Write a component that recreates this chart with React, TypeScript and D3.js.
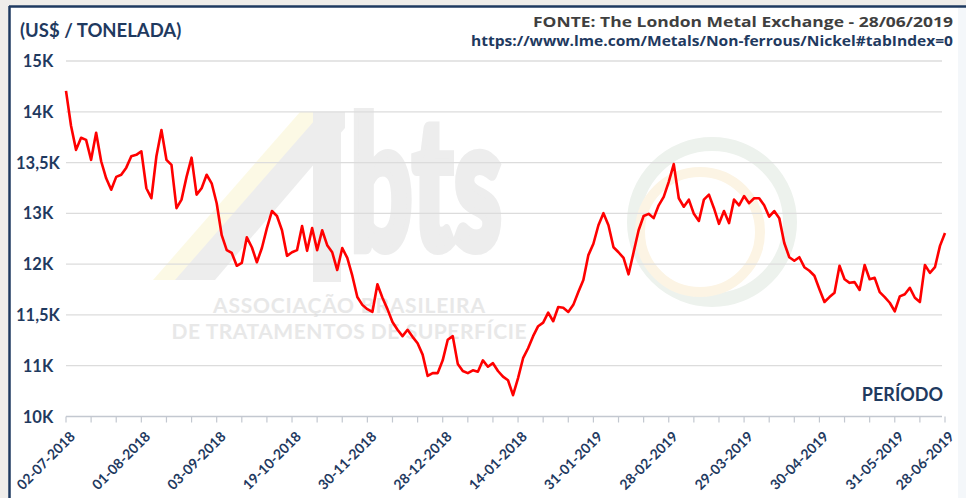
import React from "react";
import * as d3 from "d3";

// Nickel LME cash price, US$ / tonne
const prices: number[] = [
  14580, 14090, 13750, 13920, 13890, 13610, 13990, 13590, 13350, 13190,
  13370, 13400, 13500, 13660, 13680, 13730, 13210, 13070, 13660, 14030,
  13610, 13540, 12930, 13050, 13370, 13640, 13120, 13210, 13400, 13280,
  13000, 12550, 12340, 12300, 12120, 12160, 12520, 12380, 12170, 12370,
  12650, 12890, 12820, 12620, 12260, 12310, 12340, 12680, 12330, 12650,
  12340, 12620, 12410, 12310, 12060, 12370, 12230, 11980, 11680, 11570,
  11510, 11470, 11860, 11670, 11510, 11330, 11220, 11130, 11220, 11120,
  11030, 10870, 10570, 10610, 10610, 10790, 11080, 11130, 10740, 10640,
  10610, 10650, 10630, 10790, 10700, 10750, 10640, 10560, 10510, 10300,
  10540, 10820, 10960, 11130, 11270, 11320, 11460, 11340, 11540, 11530,
  11470, 11570, 11750, 11920, 12270, 12430, 12690, 12860, 12690, 12380,
  12310, 12230, 12000, 12310, 12620, 12820, 12850, 12790, 12970, 13090,
  13300, 13550, 13070, 12950, 13050, 12850, 12750, 13050, 13120, 12930,
  12710, 12890, 12720, 13050, 12970, 13100, 13000, 13070, 13070, 12970,
  12810, 12890, 12790, 12440, 12240, 12190, 12240, 12100, 12050, 11980,
  11790, 11610, 11680, 11740, 12120, 11930, 11880, 11890, 11780, 12130,
  11930, 11950, 11750, 11680, 11600, 11480, 11690, 11720, 11810, 11670,
  11610, 12130, 12020, 12100, 12400, 12580,
];

const xLabels: string[] = [
  "02-07-2018", "01-08-2018", "03-09-2018", "19-10-2018", "30-11-2018",
  "28-12-2018", "14-01-2018", "31-01-2019", "28-02-2019", "29-03-2019",
  "30-04-2019", "31-05-2019", "28-06-2019",
];

const yTickValues: number[] = [10000, 10714.3, 11428.6, 12142.9, 12857.1, 13571.4, 14285.7, 15000];
const yTickLabels: string[] = ["10K", "11K", "11,5K", "12K", "13K", "13,5K", "14K", "15K"];

const TITLE = "(US$ / TONELADA)";
const SOURCE = "FONTE: The London Metal Exchange - 28/06/2019";
const URL = "https://www.lme.com/Metals/Non-ferrous/Nickel#tabIndex=0";
const XTITLE = "PERÍODO";

const W = 966;
const H = 498;
const NAVY = "#1f3a5f";
const TICK_EVERY = 5;
const LABEL_EVERY = 15;

export default function App() {
  const n = prices.length;
  const x = d3.scaleLinear().domain([0, n - 1]).range([66, 945]);
  const y = d3.scaleLinear().domain([10000, 15000]).range([416.5, 61]);
  const line = d3
    .line<number>()
    .x((_, i) => x(i))
    .y((d) => y(d));
  const ticks = d3.range(0, n, TICK_EVERY);
  const labelIdx = xLabels.map((_, k) => (k < xLabels.length - 1 ? k * LABEL_EVERY : n - 1));
  const font = "Lato, 'Open Sans', sans-serif";

  return (
    <svg
      width={W}
      height={H}
      style={{ position: "fixed", left: 0, top: 0, display: "block" }}
      fontFamily={font}
    >
      <rect x={0} y={0} width={W} height={H} fill="#efedea" />
      <rect x={9} y={6} width={W - 9} height={H - 6} fill="#ffffff" />
      <rect x={958} y={8} width={8} height={H - 8} fill="#f4f7fa" />
      <line x1={9} y1={6.5} x2={W} y2={6.5} stroke="#1f3a60" strokeWidth={2.5} />
      <line x1={9.5} y1={6} x2={9.5} y2={H} stroke="#1f3a60" strokeWidth={2.5} />

      {/* watermark */}
      <g>
        <polygon points="175,280 215,280 345,128 345,112 322,112" fill="#fbf8de" opacity={0.8} transform="translate(-22,0)" />
        <polygon points="175,280 215,280 345,128 345,112 322,112" fill="#ededed" />
        <rect x={313} y={112} width={28} height={170} fill="#ededed" />
        <text x={350} y={250} fontSize={185} fontWeight={900} fill="#ededed" textLength={152} lengthAdjust="spacingAndGlyphs" stroke="#ededed" strokeWidth={8}>
          bts
        </text>
        <circle cx={712} cy={222} r={78} fill="none" stroke="#edf2ed" strokeWidth={14} />
        <circle cx={700} cy={232} r={60} fill="none" stroke="#fcf4e4" strokeWidth={10} />
        <text x={349} y={313} fontSize={21} fontWeight={700} fill="#e8e8e8" textAnchor="middle" textLength={272}>
          ASSOCIAÇÃO BRASILEIRA
        </text>
        <text x={349} y={339} fontSize={21} fontWeight={700} fill="#e8e8e8" textAnchor="middle" textLength={355}>
          DE TRATAMENTOS DE SUPERFÍCIE
        </text>
      </g>

      {/* gridlines */}
      {yTickValues.slice(1).map((v) => (
        <line key={v} x1={66} x2={942} y1={y(v)} y2={y(v)} stroke="#dcdcdc" strokeWidth={1.3} />
      ))}
      {/* x axis */}
      <line x1={66} x2={942} y1={y(10000)} y2={y(10000)} stroke="#c3c8d0" strokeWidth={1.3} />
      {ticks.map((t) => (
        <line key={t} x1={x(t)} x2={x(t)} y1={y(10000)} y2={y(10000) + 6} stroke="#c3c8d0" strokeWidth={1.2} />
      ))}
      {xLabels.map((l, k) => (
        <text
          key={l}
          transform={`translate(${x(labelIdx[k]) + 10},${y(10000) + 21}) rotate(-45)`}
          textAnchor="end"
          fontSize={14}
          fontWeight={700}
          fill={NAVY}
        >
          {l}
        </text>
      ))}

      {/* y labels */}
      {yTickValues.map((v, k) => (
        <text key={v} x={38} y={y(v) + 6} textAnchor="middle" fontSize={16.5} fontWeight={700} fill={NAVY}>
          {yTickLabels[k]}
        </text>
      ))}

      {/* series */}
      <path d={line(prices) || ""} fill="none" stroke="#ff0000" strokeWidth={2.6} strokeLinejoin="round" />

      {/* titles */}
      <text x={20} y={37} fontSize={18.5} fontWeight={700} fill={NAVY}>
        {TITLE}
      </text>
      <text x={953} y={27} textAnchor="end" fontSize={15} fontWeight={700} fill="#3f3f3f" fontFamily="'Open Sans', sans-serif" textLength={420} lengthAdjust="spacingAndGlyphs">
        {SOURCE}
      </text>
      <text x={953} y={46} textAnchor="end" fontSize={14} fontWeight={700} fill={NAVY} fontFamily="'Open Sans', sans-serif" textLength={482} lengthAdjust="spacingAndGlyphs">
        {URL}
      </text>
      <text x={943} y={401} textAnchor="end" fontSize={18} fontWeight={700} fill={NAVY}>
        {XTITLE}
      </text>
    </svg>
  );
}
